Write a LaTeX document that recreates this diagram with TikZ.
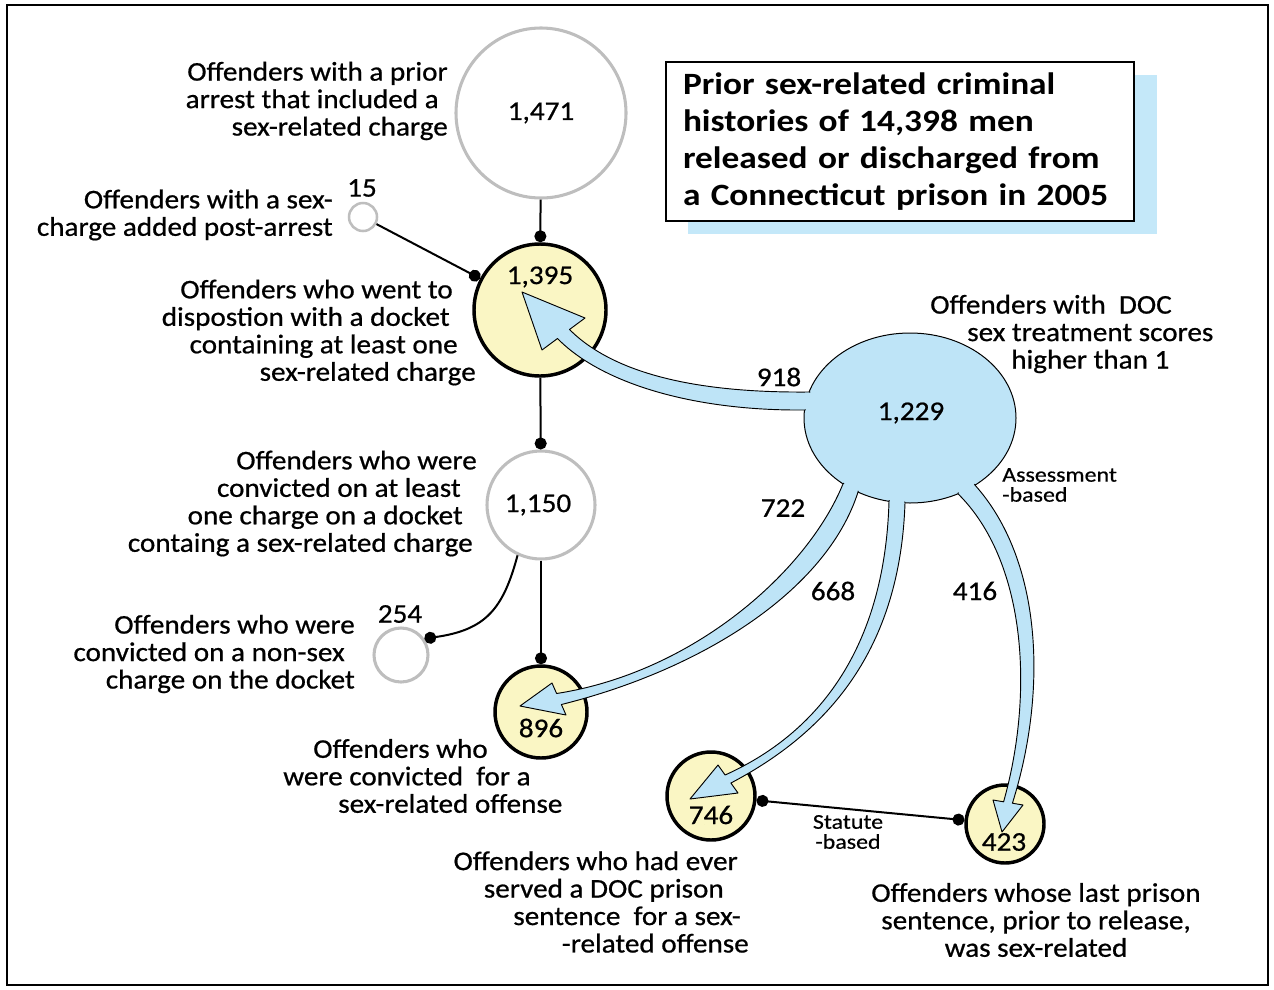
\documentclass[tikz,border=0pt]{standalone}
\usepackage{fontspec}
\setmainfont{Carlito}[FakeStretch=1.08,FakeBold=0.7]
\newfontfamily\titlefont{Carlito}[FakeStretch=1.14]
\newfontfamily\smallfont{Carlito}[FakeStretch=1.14,FakeBold=0.5]
\usetikzlibrary{arrows.meta,shapes.geometric}
\definecolor{flowblue}{RGB}{190,228,247}
\definecolor{nodeyellow}{RGB}{250,246,196}
\definecolor{ringgray}{RGB}{190,190,190}
\definecolor{shadowblue}{RGB}{196,232,249}
\newcommand\trail[1]{\rule{#1}{0pt}}
\begin{document}
\begin{tikzpicture}[x=0.75pt,y=-0.75pt,
  lbl/.style={font=\fontsize{20.25}{20.6}\selectfont, inner sep=0pt},
  num/.style={font=\fontsize{20.25}{20.6}\selectfont, inner sep=0pt},
  small/.style={font=\smallfont\fontsize{15.75}{15}\selectfont, inner sep=0pt},
  grayring/.style={circle, draw=ringgray, line width=2.3pt, inner sep=0pt},
  yelring/.style={circle, draw=black, fill=nodeyellow, line width=2.6pt, inner sep=0pt},
  dotcon/.style={line width=1.5pt, -{Circle[length=9pt]}},
  flowfill/.style={fill=flowblue},
  flowedge/.style={draw=black, line width=0.7pt, line join=round},
]
\useasboundingbox (0,0) rectangle (1274,989);
\draw[line width=1.5pt] (7,5) rectangle (1268,985);

% title with its shadow
\fill[shadowblue] (688,75) rectangle (1157,234);
\node[draw=black, line width=1.1pt, fill=white, rectangle, align=left,
      text width=325.5pt, inner xsep=12.75pt, inner ysep=0pt,
      minimum height=119.25pt,
      font=\titlefont\bfseries\fontsize{23.25}{27.75}\selectfont] (title) at (900,141.5)
  {Prior sex-related criminal\\histories of 14,398 men\\released or discharged from\\a Connecticut prison in 2005};

% circles
\node[grayring, minimum size=127.5pt] (c1471) at (541,113) {};
\node[yelring, minimum size=99pt] (c1395) at (540,310) {};
\node[grayring, line width=1.9pt, minimum size=21pt] (c15) at (363,217) {};
\node[grayring, minimum size=81pt] (c1150) at (541,505) {};
\node[grayring, minimum size=40.5pt] (c254) at (401,655) {};
\node[yelring, minimum size=69pt] (c896) at (541,712) {};
\node[yelring, minimum size=66pt] (c746) at (711,796) {};
\node[yelring, minimum size=58.5pt] (c423) at (1005,824) {};
\node[ellipse, draw=black, fill=flowblue, line width=0.75pt, minimum width=159pt,
      minimum height=127.5pt, inner sep=0pt] (e1229) at (910,418) {};

% connectors
\draw[dotcon] (c1471) -- (c1395);
\draw[dotcon] (c15) -- (c1395);
\draw[dotcon] (c1395) -- (c1150);
\draw[dotcon] (c1150.245) .. controls (503,610) and (485,630) .. (c254.35);
\draw[dotcon] (c1150) -- (c896);
\draw[line width=1.5pt, {Circle[length=9pt]}-{Circle[length=9pt]}] (c746) -- (c423);

% flow arrows
\draw[flowedge, flowfill] (809,392) .. controls (700,393) and (615,375) .. (569.5,329.5)
  -- (585,318) -- (522,292) -- (542,350) -- (557.5,338.5)
  .. controls (600,382) and (690,411) .. (804.5,410) -- (860,402) -- cycle;
\draw[flowedge, flowfill] (843,483.9) .. controls (808,570) and (695,672) .. (556.6,693.5)
  -- (552,683) -- (520,706) -- (566,715) -- (561.4,704.5)
  .. controls (700,670) and (826,592) .. (858,492.1) -- (866,460) -- cycle;
\draw[flowedge, flowfill] (889,501.3) .. controls (885,640) and (825,730) .. (725.1,775)
  -- (718,765) -- (690,799) -- (738,793) -- (730.9,783)
  .. controls (828,732) and (900,650) .. (905,502.9) -- (898,470) -- cycle;
\draw[flowedge, flowfill] (958,493.8) .. controls (1025,560) and (1035,690) .. (1003.6,801.8)
  -- (993,800) -- (1002,832) -- (1023,805) -- (1012.4,803.2)
  .. controls (1048,690) and (1042,560) .. (975,485.1) -- (960,460) -- cycle;
\node[ellipse, fill=flowblue, minimum width=157pt, minimum height=125.5pt, inner sep=0pt] (e1229in) at (910,418) {};

% numbers
\node[num] (n1471) at (541,113) {1,471};
\node[num] (n1395) at (540,277) {1,395};
\node[num] (n15) at (362,188) {15};
\node[num] (n1150) at (538,505) {1,150};
\node[num] (n254) at (400,614) {254};
\node[num] (n896) at (541,728) {896};
\node[num] (n746) at (711,815) {746};
\node[num] (n423) at (1004,842) {423};
\node[num] (n1229) at (911,413) {1,229};
\node[num] (f918) at (779,377) {918};
\node[num] (f722) at (783,508) {722};
\node[num] (f668) at (833,591) {668};
\node[num] (f416) at (975,591) {416};

% labels
\node[lbl, align=right, anchor=east] (t1471) at (448,101)
  {Offenders with a prior\\arrest that included a\trail{6.75pt}\\sex-related charge};
\node[lbl, align=right, anchor=east] (t15) at (333,215)
  {Offenders with a sex-\\charge added post-arrest};
\node[lbl, align=right, anchor=east] (t1395) at (476,332.5)
  {Offenders who went to\trail{17.25pt}\\dispostion with a docket\trail{19.5pt}\\containing at least one\trail{13.5pt}\\sex-related charge};
\node[lbl, align=right, anchor=east] (t1150) at (477,503.5)
  {Offenders who were\\convicted on at least\trail{12pt}\\one charge on a docket\trail{10.5pt}\\containg a sex-related charge\trail{3pt}};
\node[lbl, align=right, anchor=east] (t254) at (355,654)
  {Offenders who were\\convicted on a non-sex\trail{7.5pt}\\charge on the docket};
\node[lbl, align=left, anchor=west] (t896) at (283,776)
  {\hspace*{22.5pt}Offenders who\\were convicted\ \ for a\\\hspace*{41.25pt}sex-related offense};
\node[lbl, align=right, anchor=east] (t746) at (749,902)
  {Offenders who had ever\trail{8.25pt}\\served a DOC prison\trail{18.75pt}\\sentence\ \ for a sex-\trail{6pt}\\-related offense};
\node[lbl, align=center] (t423) at (1036,920)
  {Offenders whose last prison\\sentence, prior to release,\\was sex-related};
\node[lbl, align=left, anchor=west] (t1229) at (930,334)
  {Offenders with\ \ DOC\\\hspace*{27.75pt}sex treatment scores\\\hspace*{60.75pt}higher than 1};
\node[small, align=left, anchor=west] (sAssess) at (1002,485) {Assessment\\-based};
\node[small, align=center] (sStat) at (848,832) {Statute\\-based};
\end{tikzpicture}
\end{document}
